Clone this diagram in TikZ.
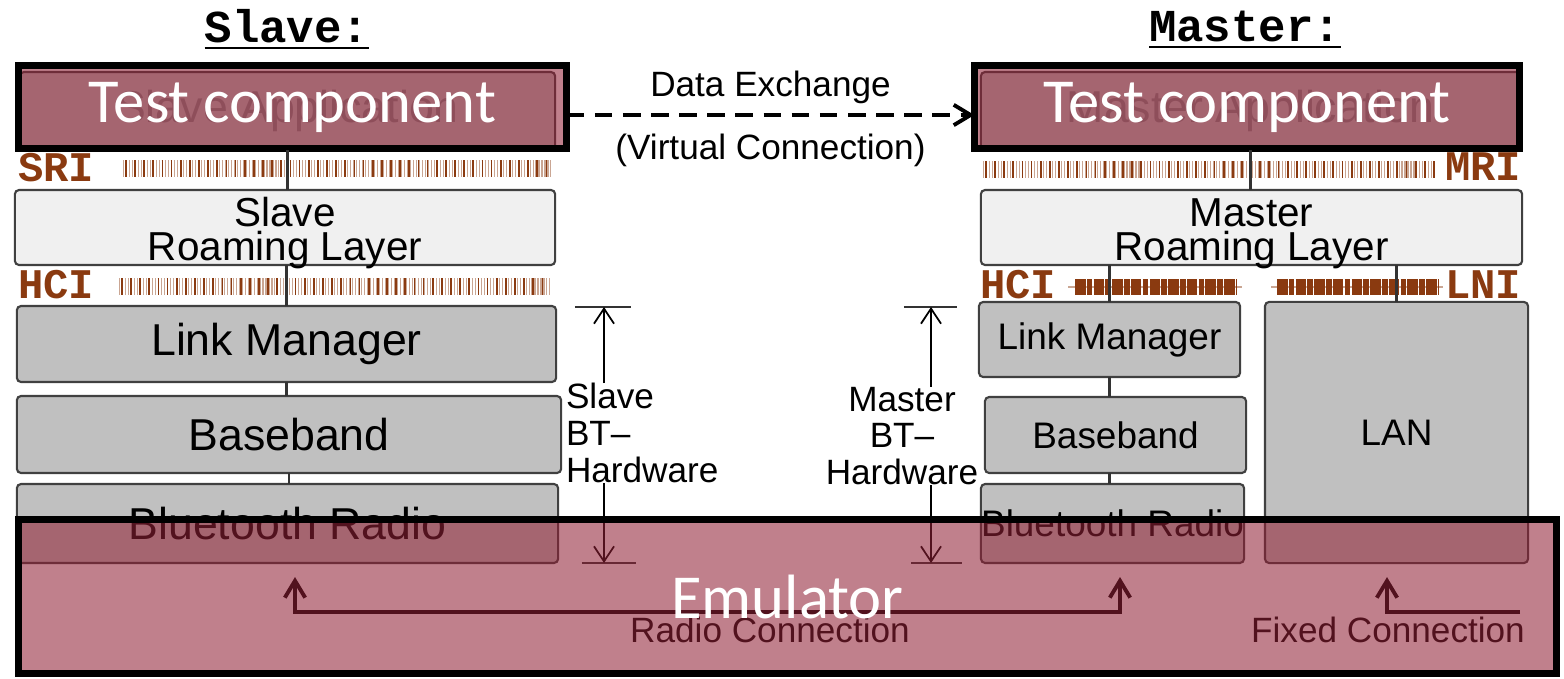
\documentclass[tikz,border=0pt]{standalone}
\usepackage{fontspec}
\setmainfont{Liberation Sans}
\setmonofont{Liberation Mono}
\newfontfamily\calibri{Carlito}
\usetikzlibrary{positioning}
\usetikzlibrary{arrows.meta}

\definecolor{ifbrown}{RGB}{138,58,16}
\definecolor{emured}{RGB}{145,32,53}
\definecolor{hwgray}{RGB}{192,192,192}
\definecolor{roamgray}{RGB}{240,240,240}

\begin{document}
\begin{tikzpicture}
[
x=0.01cm, y=-0.01cm,
% 余白なしのノード
every node/.style={inner sep=0, outer sep=0},
% 矢印の先端
barb/.tip={Straight Barb[length=4.8pt, width=5.8pt]},
arrow/.style={line width=1.1pt},
dim/.style={-{Straight Barb[length=4.3pt, width=5.7pt]}, line width=0.5pt},
link/.style={black!80, line width=0.6pt},
% ブロック
block/.style={rectangle, draw=black!75, fill=hwgray, rounded corners=1.2pt,
line width=0.6pt, font=\fontsize{12.7}{14}\selectfont},
mblock/.style={block, font=\fontsize{10.5}{12}\selectfont},
roam/.style={block, fill=roamgray, align=center, inner ysep=-2pt, font=\fontsize{11.5}{9.8}\selectfont},
% 重ねる枠
overlay/.style={rectangle, draw=black, line width=2pt, fill=emured, fill opacity=0.57,
text opacity=1, text=white, font=\calibri\fontsize{17.8}{20}\selectfont},
% インタフェース
iface/.style={font=\ttfamily\bfseries\fontsize{12}{12}\selectfont, text=ifbrown},
band/.style={ifbrown!45, line width=0.17cm, dash pattern=on 0.3pt off 0.55pt},
bandd/.style={ifbrown, line width=0.17cm, dash pattern=on 0.5pt off 2.1pt},
bandm/.style={ifbrown, line width=0.15cm, dash pattern=on 3pt off 0.35pt on 1.6pt off 0.35pt},
title/.style={font=\ttfamily\bfseries\fontsize{13}{13}\selectfont},
note/.style={font=\fontsize{10}{10.5}\selectfont}
]
\useasboundingbox (0,0) rectangle (1564,679);

% タイトル
\node [title] (stitle) at (287,30) {\underline{Slave:}};
\node [title] (mtitle) at (1245,30) {\underline{Master:}};

% インタフェースの帯
\draw [band] (123,168.5) -- (553,168.5);
\draw [bandd] (125,168.5) -- (553,168.5);
\draw [band] (119,286.5) -- (550,286.5);
\draw [bandd] (121,286.5) -- (550,286.5);
\draw [band] (983,169.5) -- (1435,169.5);
\draw [bandd] (985,169.5) -- (1435,169.5);
\draw [ifbrown!45, line width=0.4pt] (1068,287) -- (1242,287) (1271,287) -- (1443,287);
\draw [bandm] (1075,287) -- (1237,287);
\draw [bandm] (1277,287) -- (1439,287);

% Slave側のブロック
\node [block, minimum width=5.35cm, minimum height=0.78cm, text=black!45] (sapp) at (287.5,111) {Slave Application};
\node [overlay, minimum width=5.48cm, minimum height=0.83cm] (stest) at (292.5,107) {Test component};
\node [iface] (sri) at (56,168) {SRI};
\node [roam, minimum width=5.40cm, minimum height=0.75cm] (sroam) at (285,227.5) {\rule{0pt}{11.6pt}Slave\\Roaming Layer};
\node [iface] (shci) at (56,285) {HCI};
\node [block, minimum width=5.39cm, minimum height=0.76cm] (slm) at (286.5,344) {Link Manager};
\node [block, minimum width=5.44cm, minimum height=0.77cm] (sbb) at (289,434.5) {Baseband};
\node [block, minimum width=5.41cm, minimum height=0.79cm] (sbr) at (287.5,523.5) {Bluetooth Radio};
\node [note, align=left, anchor=west] (shw) at (566,433) {Slave\\BT--\\Hardware};

% Master側のブロック
\node [block, minimum width=5.39cm, minimum height=0.78cm, text=black!45] (mapp) at (1250.5,111) {Master Application};
\node [overlay, minimum width=5.45cm, minimum height=0.83cm] (mtest) at (1247,107) {Test component};
\node [iface] (mri) at (1483,167) {MRI};
\node [roam, minimum width=5.41cm, minimum height=0.75cm] (mroam) at (1251.5,227.5) {\rule{0pt}{11.6pt}Master\\Roaming Layer};
\node [iface] (mhci) at (1018,285) {HCI};
\node [iface] (lni) at (1483,285) {LNI};
\node [mblock, minimum width=2.61cm, minimum height=0.75cm] (mlm) at (1109.5,339.5) {Link Manager};
\node [mblock, minimum width=2.61cm, minimum height=0.76cm] (mbb) at (1115.5,435) {Baseband\hspace{0.3cm}};
\node [mblock, minimum width=2.63cm, minimum height=0.79cm] (mbr) at (1112.5,523.5) {Bluetooth Radio};
\node [mblock, minimum width=2.63cm, minimum height=2.61cm] (lan) at (1396.5,432.5) {LAN};
\node [note, align=center] (mhw) at (902,436) {Master\\BT--\\Hardware};

% ブロックの接続
\draw [link] (sapp.south) -- (sapp.south |- sroam.north);
\draw [link] (slm.north) -- (slm.north |- sroam.south);
\draw [link] (slm.south) -- (slm.south |- sbb.north);
\draw [link] (sbb.south) -- (sbb.south |- sbr.north);
\draw [link] (mapp.south) -- (mapp.south |- mroam.north);
\draw [link] (mlm.north) -- (mlm.north |- mroam.south);
\draw [link] (mlm.south) -- (mlm.south |- mbb.north);
\draw [link] (mbb.south -| mlm) -- (mbr.north -| mlm);
\draw [link] (lan.north) -- (lan.north |- mroam.south);

% データ交換
\draw [arrow, -barb, dash pattern=on 5pt off 3pt] ([yshift=-0.08cm]stest.east) -- ([yshift=-0.08cm]mtest.west)
node [note, midway, yshift=0.28cm] {Data Exchange}
node [note, midway, yshift=-0.35cm] {(Virtual Connection)};

% ハードウェアの範囲
\coordinate (sdtop) at (604,307);
\coordinate (sdbot) at (604,563);
\draw [link, line width=0.5pt] ([xshift=-0.29cm]sdtop) -- ([xshift=0.27cm]sdtop);
\draw [link, line width=0.5pt] ([xshift=-0.22cm]sdbot) -- ([xshift=0.32cm]sdbot);
\draw [dim] (shw.north -| sdtop) -- (sdtop);
\draw [dim] (shw.south -| sdbot) -- (sdbot);
\coordinate (mdtop) at (931,307);
\coordinate (mdbot) at (931,563);
\draw [link, line width=0.5pt] ([xshift=-0.27cm]mdtop) -- ([xshift=0.26cm]mdtop);
\draw [link, line width=0.5pt] ([xshift=-0.20cm]mdbot) -- ([xshift=0.31cm]mdbot);
\draw [dim] (mhw.north -| mdtop) -- (mdtop);
\draw [dim] (mhw.south -| mdbot) -- (mdbot);

% 無線接続と有線接続
\coordinate (radl) at (295,612);
\coordinate (radr) at (1120,612);
\draw [arrow, barb-barb, shorten <=0.14cm, shorten >=0.14cm] (radl |- sbr.south) -- (radl) -- (radr) -- (radr |- mbr.south);
\node [note] (radtxt) at (770,630) {Radio Connection};
\coordinate (fixr) at (1520,612);
\coordinate (fixt) at (1387,612);
\draw [arrow, -barb, shorten >=0.14cm] (fixr) -- (fixt) -- (fixt |- lan.south);
\node [note] (fixtxt) at (1388,630) {Fixed Connection};

% エミュレータ
\node [overlay, minimum width=15.38cm, minimum height=1.54cm] (emu) at (787.5,596.5) {Emulator};
\end{tikzpicture}
\end{document}
